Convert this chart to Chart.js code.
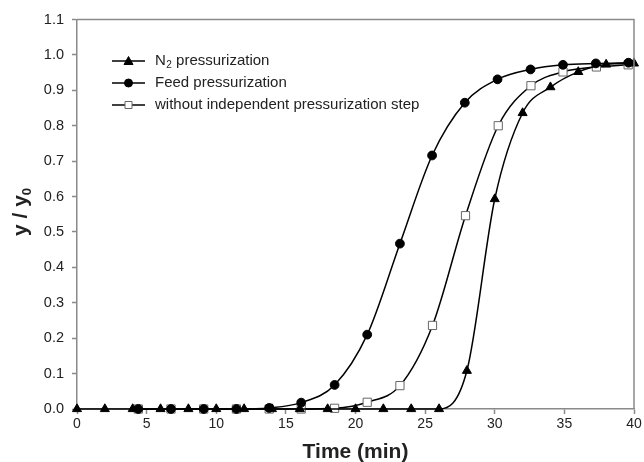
<!DOCTYPE html>
<html>
<head>
<meta charset="utf-8">
<title>Breakthrough curves</title>
<script src="https://cdn.jsdelivr.net/npm/chart.js@4.4.0/dist/chart.umd.min.js"></script>
<style>
  html, body { margin: 0; padding: 0; background: #fff; }
  canvas { display: block; }
</style>
</head>
<body>
<canvas id="curveChart" width="644" height="462"></canvas>
<script>
// N2 pressurization, sampled every 2 min
const timeN2 = [0, 2, 4, 6, 8, 10, 12, 14, 16, 18, 20, 22, 24, 26, 28, 30, 32, 34, 36, 38, 40];
const yN2 = [0, 0, 0, 0, 0, 0, 0, 0, 0, 0, 0, 0, 0, 0, 0.108, 0.593, 0.836, 0.909, 0.952, 0.973, 0.976];

// Feed pressurization
const timeFeed = [4.4, 6.75, 9.1, 11.45, 13.8, 16.1, 18.5, 20.84, 23.19, 25.5, 27.85, 30.2, 32.57, 34.9, 37.26, 39.6];
const yFeed = [0, 0, 0, 0, 0.003, 0.018, 0.068, 0.21, 0.467, 0.716, 0.865, 0.931, 0.959, 0.972, 0.976, 0.978];

// no separate pressurization step
const timeNoStep = [4.4, 6.75, 9.1, 11.45, 13.8, 16.1, 18.5, 20.84, 23.19, 25.53, 27.9, 30.25, 32.6, 34.9, 37.3, 39.58];
const yNoStep = [0, 0, 0, 0, 0, 0, 0.002, 0.019, 0.066, 0.236, 0.546, 0.800, 0.913, 0.952, 0.966, 0.972];

const seriesNames = ['pressurization', 'Feed pressurization', 'without independent pressurization step'];

// axis ticks
const xTickValues = [0, 5, 10, 15, 20, 25, 30, 35, 40];
const yTickValues = [0, 0.1, 0.2, 0.3, 0.4, 0.5, 0.6, 0.7, 0.8, 0.9, 1.0, 1.1];
const yTickLabels = ['0.0', '0.1', '0.2', '0.3', '0.4', '0.5', '0.6', '0.7', '0.8', '0.9', '1.0', '1.1'];

const FONT = "'Liberation Sans', Arial, sans-serif";
const AXIS_GRAY = '#8a8a8a';
const TEXT = '#222';

const toPoints = (xs, ys) => xs.map((x, i) => ({ x: x, y: ys[i] }));

const markerStyles = [
  { pointStyle: 'triangle', radius: 5.2, fill: '#000', stroke: '#000', width: 1 },
  { pointStyle: 'circle', radius: 4.4, fill: '#000', stroke: '#000', width: 1 },
  { pointStyle: 'rect', radius: 5.8, fill: '#fff', stroke: '#666', width: 1 }
];

const makeDataset = (label, pts, m) => ({
  label: label,
  data: pts,
  showLine: true,
  cubicInterpolationMode: 'monotone',
  borderColor: '#000',
  borderWidth: 1.5,
  pointStyle: m.pointStyle,
  pointRadius: m.radius,
  pointBackgroundColor: m.fill,
  pointBorderColor: m.stroke,
  pointBorderWidth: m.width,
  clip: false
});

// small marker for the legend rows
function drawMarker(ctx, m, x, y) {
  ctx.fillStyle = m.fill;
  ctx.strokeStyle = m.stroke;
  ctx.lineWidth = m.width;
  ctx.beginPath();
  if (m.pointStyle === 'circle') {
    ctx.arc(x, y, 4, 0, Math.PI * 2);
  } else if (m.pointStyle === 'triangle') {
    ctx.moveTo(x, y - 4.5);
    ctx.lineTo(x + 4.5, y + 3.5);
    ctx.lineTo(x - 4.5, y + 3.5);
    ctx.closePath();
  } else {
    ctx.rect(x - 3.5, y - 3.5, 7, 7);
  }
  ctx.fill();
  ctx.stroke();
}

// frame, axis titles and the in-plot legend
const decorations = {
  id: 'decorations',
  afterDraw(chart) {
    const ctx = chart.ctx;
    const area = chart.chartArea;
    ctx.save();

    // top and right sides of the box
    ctx.strokeStyle = AXIS_GRAY;
    ctx.lineWidth = 1.5;
    ctx.beginPath();
    ctx.moveTo(area.left, area.top);
    ctx.lineTo(area.right, area.top);
    ctx.lineTo(area.right, area.bottom);
    ctx.stroke();

    ctx.fillStyle = TEXT;

    // x title
    ctx.font = 'bold 21px ' + FONT;
    ctx.textAlign = 'center';
    ctx.textBaseline = 'alphabetic';
    ctx.fillText('Time (min)', (area.left + area.right) / 2, 458);

    // y title with subscript, rotated
    ctx.save();
    ctx.translate(27, 212);
    ctx.rotate(-Math.PI / 2);
    const main = 'y / y';
    ctx.font = 'bold 21px ' + FONT;
    const wMain = ctx.measureText(main).width;
    ctx.font = 'bold 13px ' + FONT;
    const wSub = ctx.measureText('0').width;
    const x0 = -(wMain + wSub) / 2;
    ctx.textAlign = 'left';
    ctx.font = 'bold 21px ' + FONT;
    ctx.fillText(main, x0, 0);
    ctx.font = 'bold 13px ' + FONT;
    ctx.fillText('0', x0 + wMain, 4);
    ctx.restore();

    // legend
    const rows = [61, 83, 105];
    chart.data.datasets.forEach((ds, i) => {
      const y = rows[i];
      ctx.strokeStyle = '#000';
      ctx.lineWidth = 1.5;
      ctx.beginPath();
      ctx.moveTo(112, y);
      ctx.lineTo(145, y);
      ctx.stroke();
      drawMarker(ctx, markerStyles[i], 128.5, y);

      ctx.fillStyle = TEXT;
      ctx.textAlign = 'left';
      ctx.textBaseline = 'middle';
      let tx = 155;
      ctx.font = '15px ' + FONT;
      if (i === 0) {
        ctx.fillText('N', tx, y);
        tx += ctx.measureText('N').width + 0.5;
        ctx.font = '10px ' + FONT;
        ctx.fillText('2', tx, y + 4);
        tx += ctx.measureText('2').width;
        ctx.font = '15px ' + FONT;
        ctx.fillText(' ' + ds.label, tx, y);
      } else {
        ctx.fillText(ds.label, tx, y);
      }
    });

    ctx.restore();
  }
};

new Chart(document.getElementById('curveChart'), {
  type: 'scatter',
  data: {
    datasets: [
      makeDataset(seriesNames[0], toPoints(timeN2, yN2), markerStyles[0]),
      makeDataset(seriesNames[1], toPoints(timeFeed, yFeed), markerStyles[1]),
      makeDataset(seriesNames[2], toPoints(timeNoStep, yNoStep), markerStyles[2])
    ]
  },
  options: {
    responsive: false,
    animation: false,
    layout: { padding: { top: 19.5, right: 10, left: 0, bottom: 0 } },
    plugins: {
      legend: { display: false },
      tooltip: { enabled: false }
    },
    scales: {
      x: {
        type: 'linear',
        min: 0,
        max: 40,
        afterBuildTicks: (scale) => { scale.ticks = xTickValues.map(v => ({ value: v })); },
        afterFit: (scale) => { scale.height = 53; },
        ticks: {
          color: TEXT,
          font: { family: FONT, size: 14 },
          padding: 2,
          maxRotation: 0
        },
        grid: {
          drawOnChartArea: false,
          drawTicks: true,
          tickLength: 5,
          tickWidth: 1.5,
          color: AXIS_GRAY
        },
        border: { display: true, color: AXIS_GRAY, width: 1.5 }
      },
      y: {
        type: 'linear',
        min: 0,
        max: 1.1,
        afterBuildTicks: (scale) => { scale.ticks = yTickValues.map(v => ({ value: v })); },
        afterFit: (scale) => { scale.width = 77; },
        ticks: {
          color: TEXT,
          font: { family: FONT, size: 14.5 },
          padding: 8,
          callback: (value, index) => yTickLabels[index]
        },
        grid: {
          drawOnChartArea: false,
          drawTicks: true,
          tickLength: 5,
          tickWidth: 1.5,
          color: AXIS_GRAY
        },
        border: { display: true, color: AXIS_GRAY, width: 1.5 }
      }
    }
  },
  plugins: [decorations]
});
</script>
</body>
</html>
